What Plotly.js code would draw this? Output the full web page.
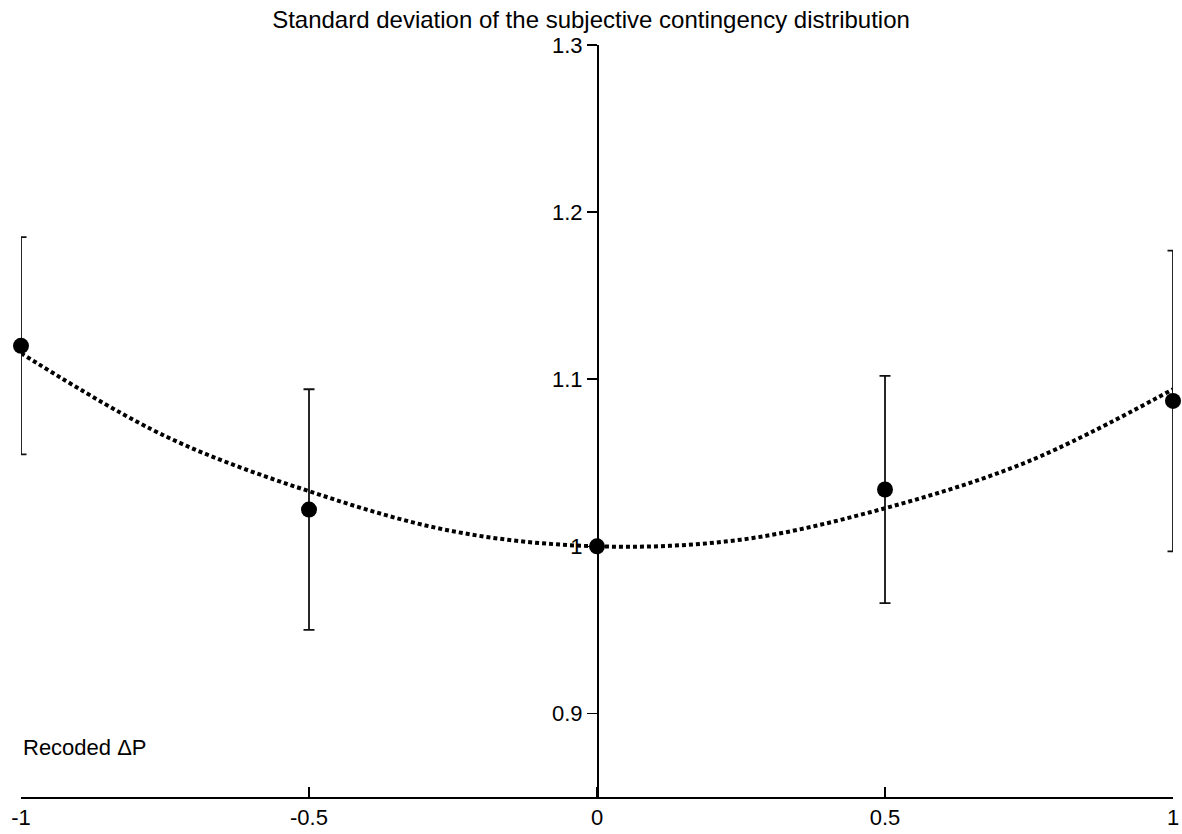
<!DOCTYPE html>
<html>
<head>
<meta charset="utf-8">
<script src="https://cdn.plot.ly/plotly-3.0.1.min.js"></script>
<style>
  html, body { margin: 0; padding: 0; background: #fff; }
  #chart { width: 1182px; height: 834px; }
</style>
</head>
<body>
<div id="chart"></div>
<script>
// Mean SD of the subjective contingency distribution per recoded ΔP level
const deltaP = [-1, -0.5, 0, 0.5, 1];
const meanSD = [1.120, 1.022, 1.000, 1.034, 1.087];
const errSD = [0.065, 0.072, 0, 0.068, 0.090];

// Fitted curve, sampled along ΔP
const fitX = [-1, -0.75, -0.5, -0.25, 0, 0.25, 0.5, 0.75, 1];
const fitY = [1.1156, 1.066, 1.033, 1.009, 1.000, 1.004, 1.0228, 1.051, 1.094];

const xTickVals = [-1, -0.5, 0, 0.5, 1];
const xTickText = ['-1', '-0.5', '0', '0.5', '1'];
const yTickVals = [0.9, 1.0, 1.1, 1.2, 1.3];
const yTickText = ['0.9', '1', '1.1', '1.2', '1.3'];

const fontFamily = 'Liberation Sans, Arial, Helvetica, sans-serif';
const font = { family: fontFamily, size: 22, color: '#000' };
const titleFont = { family: fontFamily, size: 24, color: '#000' };

const traces = [
  {
    x: fitX,
    y: fitY,
    mode: 'lines',
    line: { color: '#000', width: 4, dash: '4px,3px', shape: 'spline', smoothing: 1 },
    cliponaxis: false,
    hoverinfo: 'skip',
    showlegend: false
  },
  {
    x: deltaP,
    y: meanSD,
    mode: 'markers',
    marker: { color: '#000', size: 16 },
    error_y: { type: 'data', array: errSD, visible: true, color: '#111', thickness: 1.8, width: 5.5 },
    cliponaxis: false,
    showlegend: false
  }
];

const layout = {
  width: 1182,
  height: 834,
  margin: { l: 21, r: 9, t: 45, b: 37, pad: 0 },
  paper_bgcolor: '#fff',
  plot_bgcolor: '#fff',
  font: font,
  title: {
    text: 'Standard deviation of the subjective contingency distribution',
    font: titleFont,
    x: 0.5,
    xanchor: 'center',
    y: 0.976,
    yanchor: 'middle'
  },
  xaxis: {
    range: [-1, 1],
    showgrid: false,
    zeroline: false,
    showline: true,
    linecolor: '#000',
    linewidth: 1.5,
    ticks: 'inside',
    ticklen: 10,
    tickwidth: 1.5,
    tickcolor: '#000',
    tickvals: xTickVals,
    ticktext: xTickText,
    tickfont: font,
    fixedrange: true
  },
  yaxis: {
    range: [0.85, 1.3],
    anchor: 'free',
    position: 0.5,
    showgrid: false,
    zeroline: false,
    showline: true,
    linecolor: '#000',
    linewidth: 1.5,
    ticks: 'outside',
    ticklen: 10,
    tickwidth: 1.5,
    tickcolor: '#000',
    tickvals: yTickVals,
    ticktext: yTickText,
    tickfont: font,
    fixedrange: true
  },
  annotations: [
    {
      text: 'Recoded ΔP',
      x: -1,
      y: 0.8796,
      xref: 'x',
      yref: 'y',
      xanchor: 'left',
      yanchor: 'middle',
      showarrow: false,
      font: font
    }
  ]
};

Plotly.newPlot('chart', traces, layout, { displayModeBar: false, staticPlot: true });
</script>
</body>
</html>
